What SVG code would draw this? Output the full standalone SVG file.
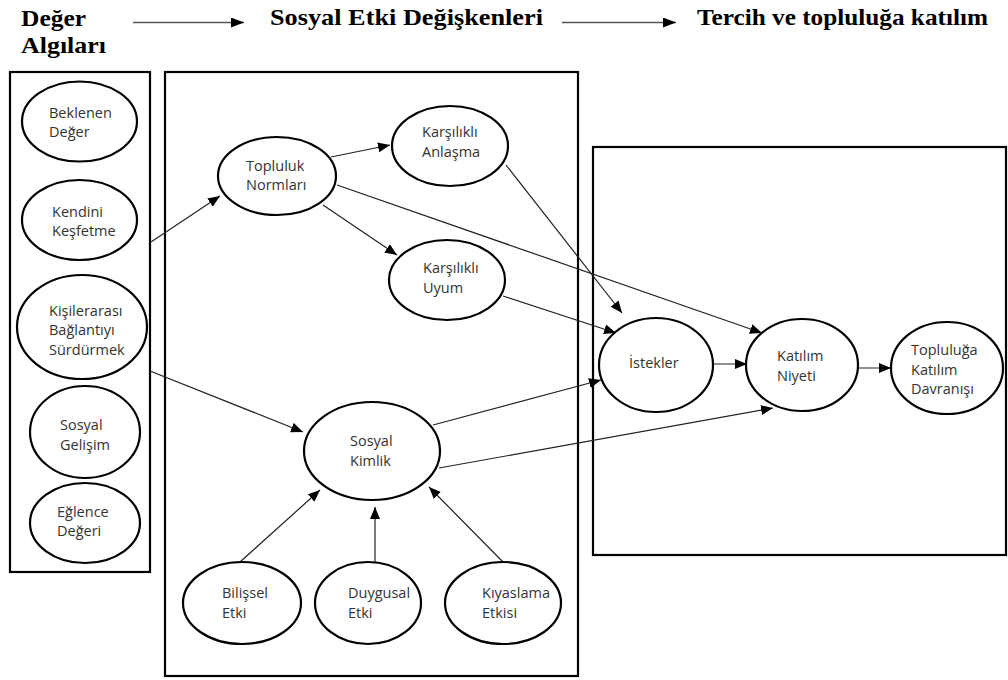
<svg xmlns="http://www.w3.org/2000/svg" width="1008" height="680" viewBox="0 0 1008 680">
<defs>
<marker id="ah" markerUnits="userSpaceOnUse" markerWidth="13" markerHeight="11" refX="12" refY="5" orient="auto">
<path d="M0,0 L12,5 L0,10 z" fill="#000"/>
</marker>
<marker id="hh" markerUnits="userSpaceOnUse" markerWidth="14" markerHeight="11" refX="13" refY="5" orient="auto">
<path d="M0,0 L13,5 L0,10 z" fill="#000"/>
</marker>
<style>
.box{fill:none;stroke:#000;stroke-width:2.2}
.el{fill:#fff;stroke:#000;stroke-width:2.2}
.t{font-family:"Open Sans","Liberation Sans",sans-serif;font-size:14.5px;fill:#333}
.h{font-family:"Liberation Serif","Times New Roman",serif;font-size:23px;font-weight:bold;fill:#000}
.c{fill:none;stroke:#222;stroke-width:1.2;marker-end:url(#ah)}
.hc{fill:none;stroke:#555;stroke-width:1.6;marker-end:url(#hh)}
</style>
</defs>
<rect width="1008" height="680" fill="#fff"/>

<g id="header">
<text class="h" x="21" y="26" textLength="65" lengthAdjust="spacingAndGlyphs">Değer</text>
<text class="h" x="21" y="53" textLength="85" lengthAdjust="spacingAndGlyphs">Algıları</text>
<text class="h" x="270" y="25" textLength="273" lengthAdjust="spacingAndGlyphs">Sosyal Etki Değişkenleri</text>
<text class="h" x="697" y="25" textLength="291" lengthAdjust="spacingAndGlyphs">Tercih ve topluluğa katılım</text>
<line class="hc" x1="133" y1="22.5" x2="244" y2="22.5"/>
<line class="hc" x1="562" y1="22.5" x2="676" y2="22.5"/>
</g>

<g id="frames">
<rect class="box" x="10" y="72" width="140" height="500"/>
<rect class="box" x="165" y="72" width="413" height="604"/>
<rect class="box" x="593" y="147" width="413" height="408"/>
</g>

<g id="connectors">
<line class="c" x1="151" y1="242" x2="220" y2="196"/>
<line class="c" x1="150" y1="371" x2="303" y2="432"/>
<line class="c" x1="331" y1="157" x2="390" y2="145"/>
<line class="c" x1="323" y1="205" x2="397" y2="255"/>
<line class="c" x1="337" y1="185" x2="762" y2="333"/>
<line class="c" x1="506" y1="165" x2="622" y2="313"/>
<line class="c" x1="503" y1="296" x2="616" y2="333"/>
<line class="c" x1="433" y1="425" x2="601" y2="380"/>
<line class="c" x1="439" y1="468" x2="773" y2="408"/>
<line class="c" x1="713" y1="364" x2="747" y2="364"/>
<line class="c" x1="858" y1="368" x2="891" y2="368"/>
<line class="c" x1="240" y1="562" x2="320" y2="490"/>
<line class="c" x1="375" y1="562" x2="375" y2="507"/>
<line class="c" x1="503" y1="562" x2="429" y2="487"/>
</g>

<g id="beklenen"><ellipse class="el" cx="79.5" cy="121.5" rx="57.5" ry="40"/><text class="t" x="49" y="118">Beklenen</text><text class="t" x="49" y="137">Değer</text></g>
<g id="kendini"><ellipse class="el" cx="79.5" cy="220" rx="57.5" ry="40"/><text class="t" x="52" y="217">Kendini</text><text class="t" x="52" y="236">Keşfetme</text></g>
<g id="kisilerarasi"><ellipse class="el" cx="82" cy="327" rx="65" ry="52"/><text class="t" x="49" y="316">Kişilerarası</text><text class="t" x="49" y="335">Bağlantıyı</text><text class="t" x="49" y="355">Sürdürmek</text></g>
<g id="sosyalgelisim"><ellipse class="el" cx="85" cy="432" rx="55" ry="46"/><text class="t" x="60" y="430">Sosyal</text><text class="t" x="60" y="450">Gelişim</text></g>
<g id="eglence"><ellipse class="el" cx="85" cy="523" rx="55" ry="40"/><text class="t" x="57" y="517">Eğlence</text><text class="t" x="57" y="536">Değeri</text></g>

<g id="topluluknormlari"><ellipse class="el" cx="277" cy="176" rx="59" ry="39"/><text class="t" x="246" y="171">Topluluk</text><text class="t" x="246" y="190">Normları</text></g>
<g id="anlasma"><ellipse class="el" cx="450" cy="146" rx="58" ry="40"/><text class="t" x="422" y="137">Karşılıklı</text><text class="t" x="422" y="157">Anlaşma</text></g>
<g id="uyum"><ellipse class="el" cx="447" cy="280" rx="58" ry="40"/><text class="t" x="423" y="273">Karşılıklı</text><text class="t" x="423" y="293">Uyum</text></g>
<g id="sosyalkimlik"><ellipse class="el" cx="372" cy="451" rx="68" ry="49"/><text class="t" x="350" y="446">Sosyal</text><text class="t" x="350" y="466">Kimlik</text></g>
<g id="bilissel"><ellipse class="el" cx="242" cy="603" rx="59" ry="41"/><text class="t" x="222" y="598">Bilişsel</text><text class="t" x="222" y="618">Etki</text></g>
<g id="duygusal"><ellipse class="el" cx="368" cy="603" rx="53" ry="41"/><text class="t" x="348" y="598">Duygusal</text><text class="t" x="348" y="618">Etki</text></g>
<g id="kiyaslama"><ellipse class="el" cx="503" cy="603" rx="58" ry="41"/><text class="t" x="482" y="598">Kıyaslama</text><text class="t" x="482" y="618">Etkisi</text></g>

<g id="istekler"><ellipse class="el" cx="656" cy="365" rx="57" ry="47"/><text class="t" x="629" y="368">İstekler</text></g>
<g id="katilimniyeti"><ellipse class="el" cx="802" cy="365" rx="56" ry="46"/><text class="t" x="777" y="361">Katılım</text><text class="t" x="777" y="381">Niyeti</text></g>
<g id="davranis"><ellipse class="el" cx="947" cy="368" rx="56" ry="46"/><text class="t" x="911" y="355">Topluluğa</text><text class="t" x="911" y="375">Katılım</text><text class="t" x="911" y="394">Davranışı</text></g>
</svg>
